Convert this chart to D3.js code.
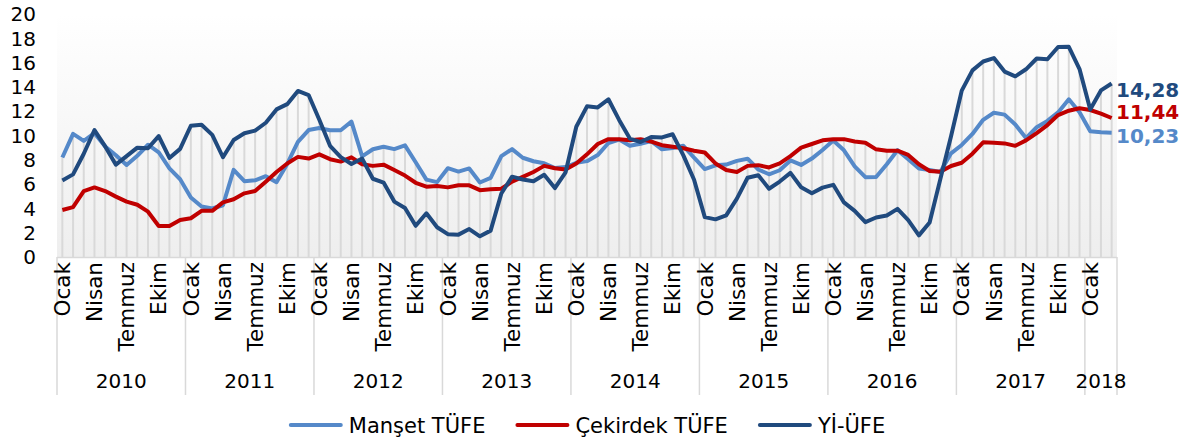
<!DOCTYPE html>
<html>
<head>
<meta charset="utf-8">
<script src="https://cdn.jsdelivr.net/npm/d3@7"></script>
<style>
  body { margin: 0; background: #fff; }
  svg { display: block; font-family: "DejaVu Sans", Verdana, sans-serif; }
</style>
</head>
<body>
<svg width="1185" height="441"></svg>
<script>
let years = ["2010", "2011", "2012", "2013", "2014", "2015", "2016", "2017", "2018"];
let monthNames = ["Ocak", "Şubat", "Mart", "Nisan", "Mayıs", "Haziran", "Temmuz", "Ağustos", "Eylül", "Ekim", "Kasım", "Aralık"];
let shownMonths = ["Ocak", "Nisan", "Temmuz", "Ekim"];
let yTicks = [0, 2, 4, 6, 8, 10, 12, 14, 16, 18, 20];

let manset = [
  8.19, 10.13, 9.56, 10.19, 9.10, 8.37, 7.58, 8.33, 9.24, 8.62, 7.29, 6.40,
  4.90, 4.16, 3.99, 4.26, 7.17, 6.24, 6.31, 6.65, 6.15, 7.66, 9.48, 10.45,
  10.61, 10.43, 10.43, 11.14, 8.28, 8.87, 9.07, 8.88, 9.19, 7.80, 6.37, 6.16,
  7.31, 7.03, 7.29, 6.13, 6.51, 8.30, 8.88, 8.17, 7.88, 7.71, 7.32, 7.40,
  7.75, 7.89, 8.39, 9.38, 9.66, 9.16, 9.32, 9.54, 8.86, 8.96, 9.15, 8.17,
  7.24, 7.55, 7.61, 7.91, 8.09, 7.20, 6.81, 7.14, 7.95, 7.58, 8.10, 8.81,
  9.58, 8.78, 7.46, 6.57, 6.58, 7.64, 8.79, 8.05, 7.28, 7.16, 7.00, 8.53,
  9.22, 10.13, 11.29, 11.87, 11.72, 10.90, 9.79, 10.68, 11.20, 11.90, 12.98, 11.92,
  10.35, 10.26, 10.23
];

let cekirdek = [
  3.87, 4.10, 5.43, 5.73, 5.43, 4.97, 4.56, 4.30, 3.73, 2.55, 2.55, 3.05,
  3.19, 3.80, 3.80, 4.50, 4.75, 5.24, 5.43, 6.20, 7.00, 7.70, 8.24, 8.10,
  8.45, 8.05, 7.85, 8.20, 7.63, 7.50, 7.60, 7.16, 6.70, 6.11, 5.79, 5.84,
  5.73, 5.90, 5.90, 5.50, 5.57, 5.62, 6.20, 6.60, 7.00, 7.50, 7.30, 7.20,
  7.70, 8.45, 9.30, 9.70, 9.70, 9.60, 9.70, 9.50, 9.20, 9.08, 8.95, 8.75,
  8.60, 7.70, 7.16, 7.00, 7.50, 7.56, 7.37, 7.70, 8.30, 9.00, 9.30, 9.60,
  9.70, 9.70, 9.50, 9.40, 8.86, 8.75, 8.75, 8.40, 7.63, 7.08, 7.02, 7.49,
  7.76, 8.50, 9.44, 9.40, 9.35, 9.15, 9.60, 10.20, 10.86, 11.68, 12.04, 12.24,
  12.10, 11.80, 11.44
];

let yiufe = [
  6.30, 6.80, 8.50, 10.45, 9.10, 7.60, 8.30, 9.00, 8.95, 9.95, 8.15, 8.90,
  10.80, 10.89, 10.05, 8.21, 9.63, 10.19, 10.40, 11.05, 12.15, 12.58, 13.67, 13.33,
  11.30, 9.15, 8.22, 7.65, 8.10, 6.44, 6.13, 4.56, 4.03, 2.57, 3.60, 2.45,
  1.88, 1.84, 2.30, 1.70, 2.17, 5.23, 6.61, 6.38, 6.23, 6.77, 5.67, 6.97,
  10.72, 12.40, 12.31, 12.98, 11.28, 9.75, 9.46, 9.88, 9.84, 10.10, 8.36, 6.36,
  3.28, 3.10, 3.43, 4.80, 6.52, 6.73, 5.62, 6.21, 6.92, 5.74, 5.25, 5.71,
  5.94, 4.49, 3.80, 2.87, 3.25, 3.41, 3.96, 3.03, 1.78, 2.84, 6.41, 9.94,
  13.69, 15.36, 16.09, 16.37, 15.26, 14.87, 15.45, 16.34, 16.28, 17.28, 17.30, 15.47,
  12.14, 13.71, 14.28
];

let seriesNames = ["Manşet TÜFE", "Çekirdek TÜFE", "Yİ-ÜFE"];
let seriesColors = ["#5589C9", "#C00000", "#204A7E"];

// month list built from the year and month names
let months = [];
years.forEach((yr) => {
  monthNames.forEach((m) => {
    if (months.length < manset.length) months.push({ year: yr, name: m, key: yr + "-" + m });
  });
});

let svg = d3.select("svg");
let plotLeft = 57, plotRight = 1117, plotTop = 14, plotBottom = 257;

let x = d3.scaleBand().domain(months.map((d) => d.key)).range([plotLeft, plotRight]).padding(0);
let y = d3.scaleLinear().domain([0, 20]).range([plotBottom, plotTop]);
let cx = (i) => x(months[i].key) + x.bandwidth() / 2;

let defs = svg.append("defs");
let grad = defs.append("linearGradient").attr("id", "bg").attr("x1", 0).attr("y1", 0).attr("x2", 0).attr("y2", 1);
grad.append("stop").attr("offset", "0%").attr("stop-color", "#ffffff");
grad.append("stop").attr("offset", "100%").attr("stop-color", "#eeeeee");

svg.append("rect")
  .attr("x", plotLeft)
  .attr("y", plotTop)
  .attr("width", plotRight - plotLeft)
  .attr("height", plotBottom - plotTop)
  .style("fill", "url(#bg)");

// drop lines from the highest series to the axis
let all = [manset, cekirdek, yiufe];
svg.append("g")
  .selectAll("line")
  .data(months)
  .join("line")
  .attr("x1", (d, i) => cx(i))
  .attr("x2", (d, i) => cx(i))
  .attr("y1", plotBottom)
  .attr("y2", (d, i) => y(d3.max(all, (s) => s[i])))
  .style("stroke", "#d9d9d9")
  .style("stroke-width", 2);

// y axis labels
svg.append("g")
  .selectAll("text")
  .data(yTicks)
  .join("text")
  .attr("x", 36)
  .attr("y", (d) => y(d))
  .attr("dy", "0.36em")
  .attr("text-anchor", "end")
  .style("font-size", "20px")
  .style("fill", "#000")
  .text((d) => d);

// x axis line
svg.append("line")
  .attr("x1", plotLeft).attr("x2", plotRight)
  .attr("y1", plotBottom + 0.5).attr("y2", plotBottom + 0.5)
  .style("stroke", "#d9d9d9")
  .style("stroke-width", 1.5);

// year separators
let yearStarts = years.map((yr) => months.findIndex((m) => m.year == yr));
let sepX = yearStarts.map((i) => x(months[i].key)).concat([plotRight]);
svg.append("g")
  .selectAll("line")
  .data(sepX)
  .join("line")
  .attr("x1", (d) => d).attr("x2", (d) => d)
  .attr("y1", plotBottom).attr("y2", 395)
  .style("stroke", "#d9d9d9")
  .style("stroke-width", 1.5);

// month labels
svg.append("g")
  .selectAll("text")
  .data(months.map((m, i) => ({ m, i })).filter((d) => shownMonths.includes(d.m.name)))
  .join("text")
  .attr("transform", (d) => `translate(${cx(d.i)},${plotBottom + 5}) rotate(-90)`)
  .attr("dy", "0.36em")
  .attr("text-anchor", "end")
  .style("font-size", "21.5px")
  .style("fill", "#000")
  .text((d) => d.m.name);

// year labels
svg.append("g")
  .selectAll("text")
  .data(years)
  .join("text")
  .attr("x", (d, i) => (sepX[i] + sepX[i + 1]) / 2)
  .attr("y", 381)
  .attr("dy", "0.36em")
  .attr("text-anchor", "middle")
  .style("font-size", "20px")
  .style("fill", "#000")
  .text((d) => d);

// series lines
let line = d3.line().x((d, i) => cx(i)).y((d) => y(d));
all.forEach((s, k) => {
  svg.append("path")
    .datum(s)
    .attr("d", line)
    .style("fill", "none")
    .style("stroke", seriesColors[k])
    .style("stroke-width", 4)
    .style("stroke-linejoin", "round");
});

// end labels
let shift = [3, -6, 6.5];
let last = manset.length - 1;
all.forEach((s, k) => {
  svg.append("text")
    .attr("x", plotRight - 1)
    .attr("y", y(s[last]) + shift[k])
    .attr("dy", "0.36em")
    .style("font-size", "20px")
    .style("font-weight", "bold")
    .style("fill", seriesColors[k])
    .text(d3.format(".2f")(s[last]).replace(".", ","));
});

// legend, items laid out one after another and centred
let legend = svg.append("g").attr("transform", "translate(0,425)");
let items = legend.selectAll("g")
  .data(seriesNames)
  .join("g");
items.append("line")
  .attr("x1", 0).attr("x2", 50)
  .style("stroke", (d, i) => seriesColors[i])
  .style("stroke-width", 4)
  .style("stroke-linecap", "round");
items.append("text")
  .attr("x", 58)
  .attr("dy", "0.36em")
  .style("font-size", "21px")
  .style("fill", "#000")
  .text((d) => d);
let pos = 0;
let offsets = [];
items.each(function () {
  offsets.push(pos);
  pos += this.getBBox().width + 32;
});
let start = 588 - (pos - 32) / 2;
items.attr("transform", (d, i) => `translate(${start + offsets[i]},0)`);
</script>
</body>
</html>
